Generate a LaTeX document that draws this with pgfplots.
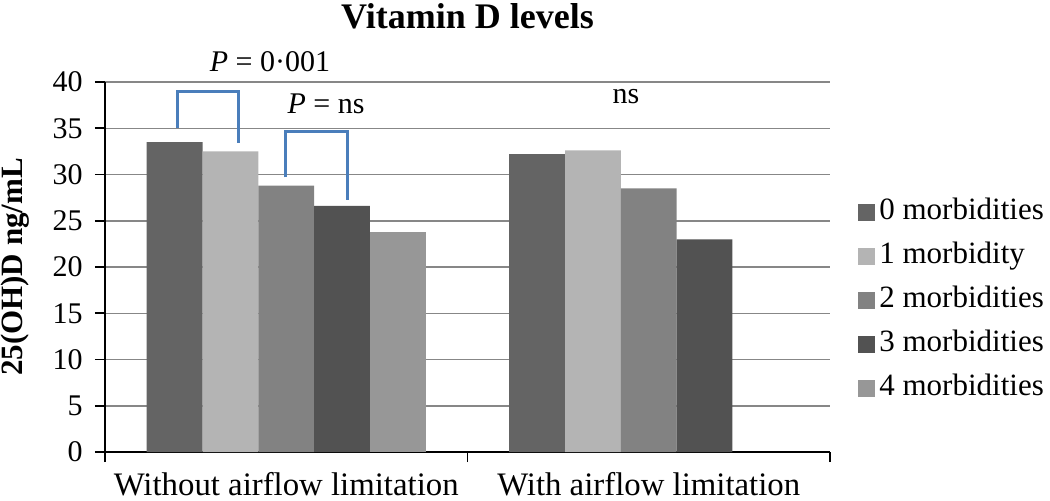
\documentclass[border=0pt]{standalone}
\usepackage{fontspec}
\setmainfont{Liberation Serif}
\newfontfamily\plainserif{Liberation Serif}
\usepackage{pgfplots}
\pgfplotsset{compat=1.18}
\definecolor{cA}{RGB}{100,100,100}
\definecolor{cB}{RGB}{180,180,180}
\definecolor{cC}{RGB}{130,130,130}
\definecolor{cD}{RGB}{82,82,82}
\definecolor{cE}{RGB}{151,151,151}
\definecolor{gridc}{RGB}{135,135,135}
\definecolor{brk}{RGB}{74,126,187}
\begin{document}
\begin{tikzpicture}
\begin{axis}[
  scale only axis,
  width=362.5pt, height=185pt,
  xmin=-0.5, xmax=1.5, ymin=0, ymax=40,
  enlargelimits=false,
  ybar,
  clip=false,
  axis x line*=bottom, axis y line*=left,
  axis line style={black, line width=1pt, -},
  ymajorgrids,
  grid style={gridc, line width=0.75pt},
  ytick={0,5,...,40},
  xtick={-0.5,0.5,1.5},
  xticklabels={},
  extra x ticks={0,1},
  extra x tick labels={Without airflow limitation, With airflow limitation},
  extra x tick style={major tick length=0pt, grid=none},
  tick align=outside,
  major tick length=5pt,
  tick style={black, line width=0.8pt},
  /pgf/number format/assume math mode=true,
  yticklabel style={font=\fontsize{15}{17}\selectfont, inner sep=0pt, anchor=east, xshift=-6pt},
  xticklabel style={font=\fontsize{16.4}{18}\selectfont, inner sep=0pt, anchor=north, yshift=-10pt},
  ylabel={25(OH)D ng/mL},
  every axis y label/.style={at={(axis description cs:-0.124,0.5)}, rotate=90, anchor=center,
    font=\bfseries\fontsize{15.5}{18}\selectfont, inner sep=0pt},
  title={Vitamin D levels},
  title style={at={(axis description cs:0.5,1)}, anchor=base, yshift=21pt, font=\plainserif\bfseries\fontsize{18}{20}\selectfont},
  legend image code/.code={\fill[#1] (0pt,-4.25pt) rectangle (8.5pt,4.25pt);},
  legend cell align=left,
  legend style={at={(axis description cs:1.0386,0.41)}, anchor=west, draw=none, fill=none,
    font=\fontsize{15.5}{18}\selectfont, row sep=9pt, inner sep=0pt,
    nodes={inner xsep=2pt, inner ysep=0pt, text height=10pt, text depth=3pt}},
]
\addplot[fill=cA, draw=none, bar width=0.154, bar shift=0pt] coordinates {(-0.308,33.5) (0.692,32.2)};
\addplot[fill=cB, draw=none, bar width=0.154, bar shift=0pt] coordinates {(-0.154,32.5) (0.846,32.6)};
\addplot[fill=cC, draw=none, bar width=0.154, bar shift=0pt] coordinates {(0,28.8) (1,28.5)};
\addplot[fill=cD, draw=none, bar width=0.154, bar shift=0pt] coordinates {(0.154,26.6) (1.154,23.0)};
\addplot[fill=cE, draw=none, bar width=0.154, bar shift=0pt] coordinates {(0.308,23.8)};
\legend{0 morbidities, 1 morbidity, 2 morbidities, 3 morbidities, 4 morbidities}
\addplot[sharp plot, forget plot, brk, line width=1.5pt] coordinates {(-0.301,35.0) (-0.301,39.0) (-0.133,39.0) (-0.133,33.4)};
\addplot[sharp plot, forget plot, brk, line width=1.5pt] coordinates {(-0.003,29.7) (-0.003,34.7) (0.170,34.7) (0.170,27.2)};
\node[anchor=base, font=\plainserif\fontsize{15}{17}\selectfont, inner sep=0pt] at (axis cs:-0.045,41.1) {\textit{P} = 0·001};
\node[anchor=base, font=\plainserif\fontsize{15}{17}\selectfont, inner sep=0pt] at (axis cs:0.110,36.6) {\textit{P} = ns};
\node[anchor=base, font=\plainserif\fontsize{15}{17}\selectfont, inner sep=0pt] at (axis cs:0.937,37.7) {ns};
\end{axis}
\pgfresetboundingbox
\path[use as bounding box] (-52.5pt,-24pt) rectangle (472.5pt,226pt);
\end{tikzpicture}
\end{document}
